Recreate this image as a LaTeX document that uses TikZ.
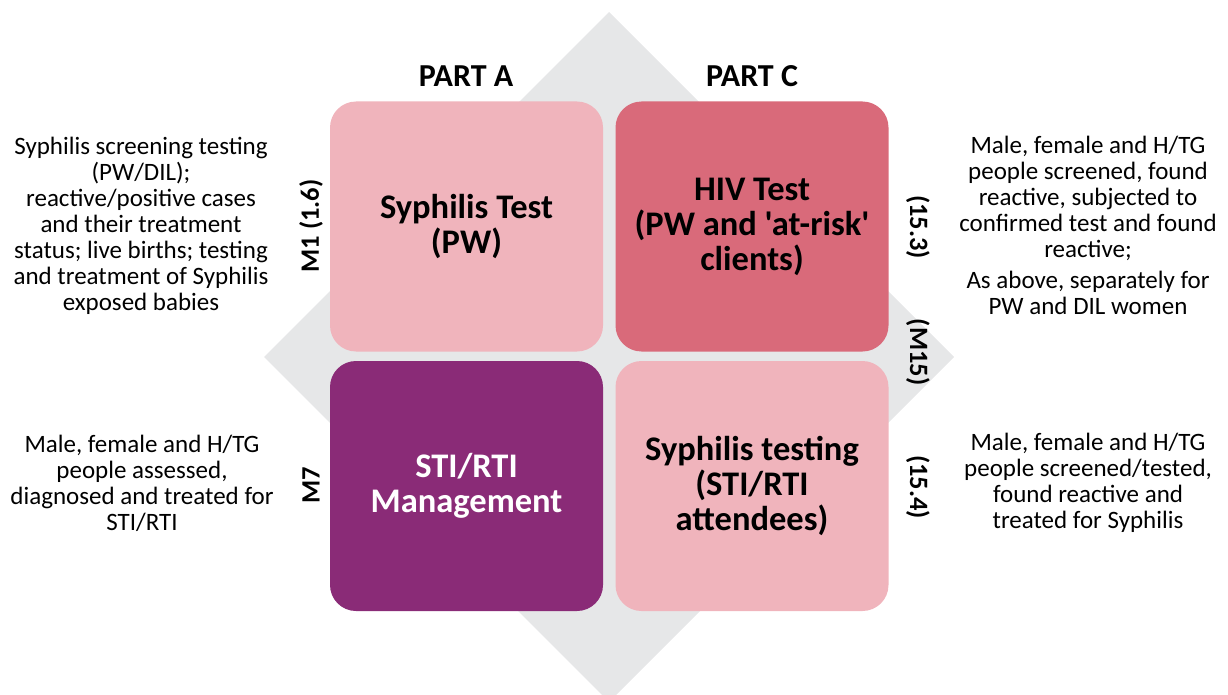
\documentclass[tikz,border=0pt]{standalone}
\usepackage{fontspec}
\setmainfont{Carlito}[Ligatures=TeXOff]
\definecolor{diag}{HTML}{E6E7E8}
\definecolor{lpink}{HTML}{F0B4BC}
\definecolor{dpink}{HTML}{D96A7A}
\definecolor{purp}{HTML}{8A2B77}
\begin{document}
\begin{tikzpicture}[x=1pt,y=-1pt,
  box/.style={rounded corners=26pt, minimum width=273pt, minimum height=250pt, inner sep=0pt, align=center,
    font=\fontsize{34.5}{35}\selectfont\bfseries},
  part/.style={font=\fontsize{32}{36}\selectfont\bfseries},
  code/.style={font=\fontsize{26.5}{30}\selectfont\bfseries},
  desc/.style={align=center, font=\fontsize{25}{26}\selectfont, inner sep=0pt}]
\useasboundingbox (0,0) rectangle (1228,695);
\begin{scope}
\clip (0,0) rectangle (1228,695);
\fill[diag] (609,12) -- (954,357) -- (609,702) -- (264,357) -- cycle;
\end{scope}
\node[box, fill=lpink] (tl) at (466.5,226.5) {Syphilis Test\\(PW)};
\node[box, fill=dpink] (tr) at (752,226.5) {HIV Test\\(PW and 'at-risk'\\clients)};
\node[box, fill=purp, text=white] (bl) at (466.5,486) {STI/RTI\\Management};
\node[box, fill=lpink] (br) at (752,486) {Syphilis testing\\(STI/RTI\\attendees)};
\node[part] (pa) at (466,76) {PART A};
\node[part] (pc) at (752,76) {PART C};
\node[code, rotate=90] (m1) at (311,226) {M1 (1.6)};
\node[code, rotate=90] (m7) at (311,485) {M7};
\node[code, rotate=-90] (c153) at (918,227) {(15.3)};
\node[code, rotate=-90] (m15) at (918,352) {(M15)};
\node[code, rotate=-90] (c154) at (918,487) {(15.4)};
\node[desc] (d1) at (141,226) {Syphilis screening testing\\(PW/DIL);\\reactive/positive cases\\and their treatment\\status; live births; testing\\and treatment of Syphilis\\exposed babies};
\node[desc] (d2) at (142,483) {Male, female and H/TG\\people assessed,\\diagnosed and treated for\\STI/RTI};
\node[desc] (d3) at (1088,198) {Male, female and H/TG\\people screened, found\\reactive, subjected to\\confirmed test and found\\reactive;};
\node[desc] (d4) at (1088,293) {As above, separately for\\PW and DIL women};
\node[desc] (d5) at (1088,483) {Male, female and H/TG\\people screened/tested,\\found reactive and\\treated for Syphilis};
\end{tikzpicture}
\end{document}
